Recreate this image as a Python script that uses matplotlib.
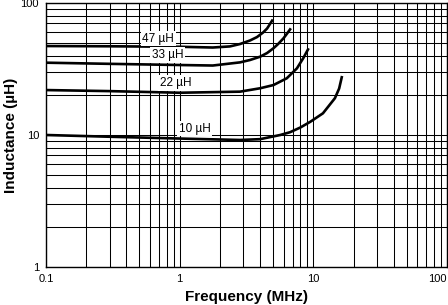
import matplotlib
matplotlib.use('Agg')
import matplotlib.pyplot as plt
from matplotlib.ticker import LogLocator, NullFormatter

plt.rcParams['font.family'] = ['Liberation Sans', 'DejaVu Sans']

# inductance vs frequency
freq_47 = [0.1, 0.3, 1.0, 1.77, 2.38, 2.83, 3.36, 3.79, 4.21, 4.51, 4.98]
ind_47 = [47.2, 47.0, 46.6, 46.0, 46.9, 48.9, 52.0, 55.2, 59.8, 64.1, 75.0]

freq_33 = [0.1, 0.3, 1.0, 1.77, 2.83, 3.36, 4.0, 4.51, 5.03, 5.45, 5.98, 6.36, 6.79]
ind_33 = [35.3, 34.6, 33.9, 33.6, 35.5, 37.0, 39.2, 41.8, 45.4, 48.9, 54.0, 58.7, 64.3]

freq_22 = [0.1, 0.3, 1.0, 2.83, 4.0, 5.03, 6.33, 7.54, 8.42, 9.22]
ind_22 = [21.9, 21.5, 20.9, 21.3, 22.6, 23.9, 26.9, 32.0, 38.3, 45.4]

freq_10 = [0.1, 0.3, 1.0, 2.83, 4.0, 5.65, 6.7, 8.0, 9.5, 11.8, 14.5, 15.6, 16.4]
ind_10 = [10.0, 9.7, 9.4, 9.17, 9.3, 10.0, 10.5, 11.4, 12.6, 14.6, 19.0, 22.5, 28.0]

series = [('47 µH', freq_47, ind_47),
          ('33 µH', freq_33, ind_33),
          ('22 µH', freq_22, ind_22),
          ('10 µH', freq_10, ind_10)]

# where the curve names sit (freq, inductance)
label_pos = {'47 µH': (0.69, 53.8),
             '33 µH': (0.81, 40.4),
             '22 µH': (0.93, 24.8),
             '10 µH': (1.30, 11.2)}

x_ticks = [0.1, 1, 10, 100]
x_ticklabels = ['0.1', '1', '10', '100']
y_ticks = [1, 10, 100]
y_ticklabels = ['1', '10', '100']

fig = plt.figure(figsize=(4.48, 3.05), dpi=100)
ax = fig.add_axes([46/448, 38/305, 401/448, 264/305])

ax.set_xscale('log')
ax.set_yscale('log')
ax.set_xlim(0.1, 100)
ax.set_ylim(1, 100)

ax.xaxis.set_minor_locator(LogLocator(base=10, subs=range(2, 10)))
ax.yaxis.set_minor_locator(LogLocator(base=10, subs=range(2, 10)))
ax.xaxis.set_minor_formatter(NullFormatter())
ax.yaxis.set_minor_formatter(NullFormatter())
ax.set_xticks(x_ticks)
ax.set_xticklabels(x_ticklabels)
ax.set_yticks(y_ticks)
ax.set_yticklabels(y_ticklabels)
# last x label sits inside the frame, like the original
ax.get_xticklabels()[-1].set_horizontalalignment('right')

ax.grid(True, which='both', color='black', linewidth=0.75)
ax.tick_params(which='both', length=0)
ax.tick_params(axis='x', labelsize=8, pad=5)
ax.tick_params(axis='y', labelsize=8, pad=5)
for s in ax.spines.values():
    s.set_linewidth(1.0)

for name, f, L in series:
    ax.plot(f, L, color='black', linewidth=1.9, solid_capstyle='butt', zorder=3)
    lx, ly = label_pos[name]
    ax.text(lx, ly, name, fontsize=8.5, ha='center', va='center', zorder=4,
            bbox=dict(facecolor='white', edgecolor='none', pad=1.2))

ax.set_xlabel('Frequency (MHz)', fontsize=11, fontweight='bold', labelpad=4)
ax.set_ylabel('Inductance (µH)', fontsize=11, fontweight='bold', labelpad=2)

plt.savefig('out.png', dpi=100)
